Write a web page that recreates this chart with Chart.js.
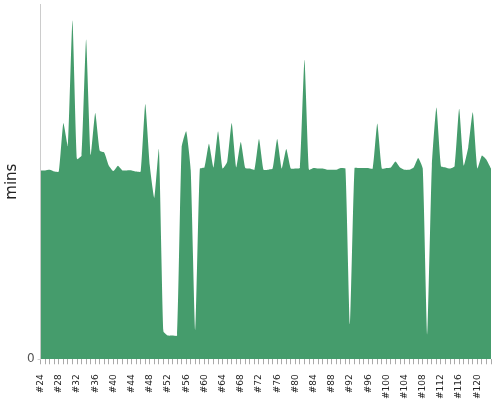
<!DOCTYPE html>
<html><head><meta charset="utf-8">
<script src="https://cdn.jsdelivr.net/npm/chart.js@4"></script>
<style>html,body{margin:0;padding:0;background:#fff}#wrap{width:500px;height:400px;position:relative}</style>
</head><body><div id="wrap"><canvas id="c"></canvas></div>
<script>
const categories = ['#24','#25','#26','#27','#28','#29','#30','#31','#32','#33','#34','#35','#36','#37','#38','#39','#40','#41','#42','#43','#44','#45','#46','#47','#48','#49','#50','#51','#52','#53','#54','#55','#56','#57','#58','#59','#60','#61','#62','#63','#64','#65','#66','#67','#68','#69','#70','#71','#72','#73','#74','#75','#76','#77','#78','#79','#80','#81','#82','#83','#84','#85','#86','#87','#88','#89','#90','#91','#92','#93','#94','#95','#96','#97','#98','#99','#100','#101','#102','#103','#104','#105','#106','#107','#108','#109','#110','#111','#112','#113','#114','#115','#116','#117','#118','#119','#120','#121','#122','#123'];
const minsValues = [31.9,31.9,32.0,31.7,31.7,39.9,36.0,57.2,33.8,34.4,
54.0,34.5,41.6,35.2,34.9,32.7,31.8,32.7,31.9,31.9,
31.9,31.7,31.7,43.1,32.7,27.3,35.5,4.7,4.0,4.0,
4.0,35.8,38.5,31.9,5.0,32.2,32.4,36.4,32.4,38.5,
32.2,33.3,39.9,32.4,36.7,32.3,32.2,32.0,37.2,32.0,
32.0,32.2,37.2,32.2,35.5,32.2,32.2,32.3,50.6,32.0,
32.3,32.2,32.2,32.0,32.0,32.0,32.3,32.2,5.9,32.3,
32.3,32.3,32.3,32.2,39.8,32.2,32.3,32.4,33.4,32.4,
32.0,32.0,32.4,34.0,32.2,4.2,32.7,42.5,32.6,32.4,
32.2,32.6,42.3,32.7,35.8,41.7,32.2,34.4,33.7,32.2];
const yMax = 60;
const labelEvery = 4;

new Chart(document.getElementById('c'), {
  type: 'line',
  data: {
    labels: categories,
    datasets: [{
      data: minsValues,
      fill: 'origin',
      backgroundColor: '#459c6c',
      borderColor: '#459c6c',
      borderWidth: 0,
      pointRadius: 0,
      tension: 0.15
    }]
  },
  options: {
    responsive: true,
    maintainAspectRatio: false,
    animation: false,
    layout: { padding: { left: 0, right: 9, top: 4, bottom: -9 } },
    plugins: { legend: { display: false }, tooltip: { enabled: false } },
    scales: {
      x: {
        z: 1,
        afterFit: s => { s.paddingRight = 0; s.paddingLeft = 0; },
        grid: { drawOnChartArea: false, drawTicks: true, tickLength: 5, color: '#aaaaaa', lineWidth: 1 },
        border: { display: false },
        ticks: {
          autoSkip: false, maxRotation: 90, minRotation: 90, padding: 10,
          color: '#222', font: { size: 9, family: 'DejaVu Sans' },
          callback: (v, i) => (i % labelEvery === 0 ? categories[i] : '')
        }
      },
      y: {
        min: 0, max: yMax,
        afterBuildTicks: axis => { axis.ticks = [{ value: 0 }]; },
        afterFit: s => { s.paddingTop = 0; s.paddingBottom = 0; },
        grid: { drawOnChartArea: false, drawTicks: true, tickLength: 3, color: '#cccccc' },
        border: { display: true, color: '#cccccc' },
        ticks: { color: '#555', font: { size: 12, family: 'DejaVu Sans' } },
        title: { display: true, text: 'mins', color: '#222', font: { size: 15, family: 'DejaVu Sans' }, padding: 3 }
      }
    }
  }
});
</script>
</body></html>
